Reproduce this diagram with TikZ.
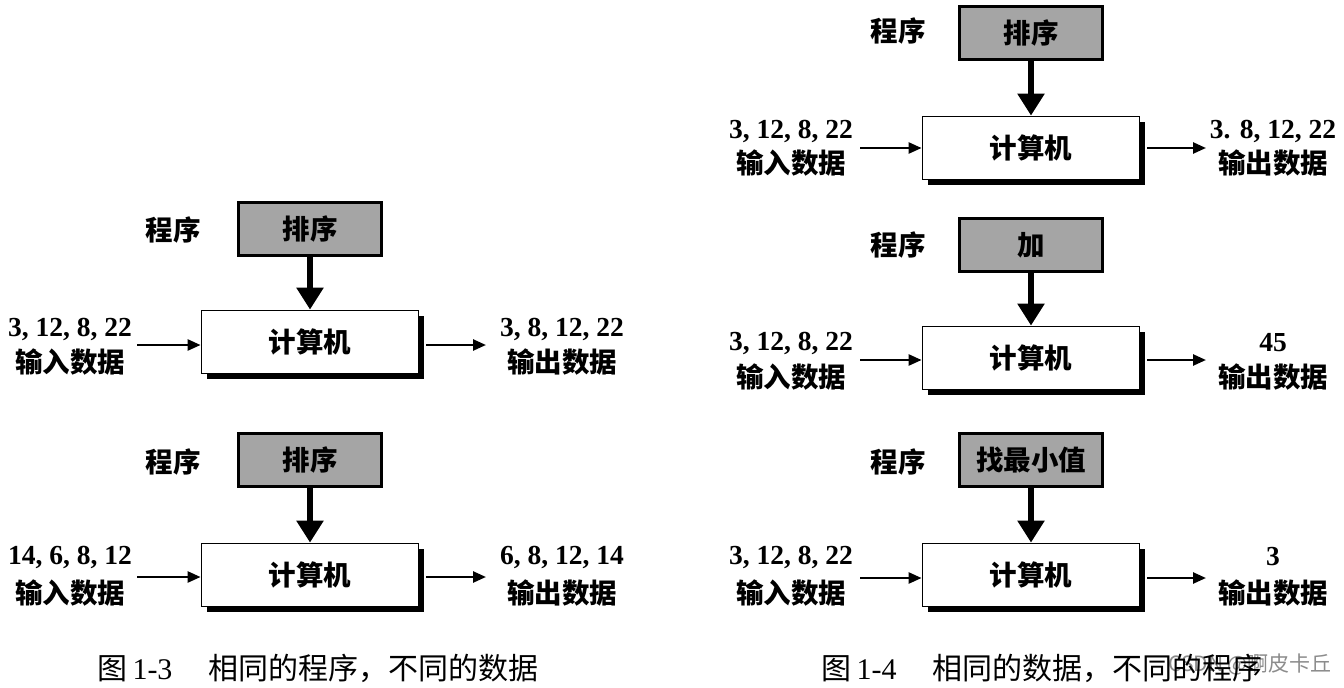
\documentclass[tikz,border=0pt]{standalone}
\usepackage{fontspec}
\setmainfont{Liberation Serif}
\newfontfamily\cjk{Noto Sans CJK SC}
\usetikzlibrary{arrows.meta,shadows}
\definecolor{boxgray}{RGB}{165,165,165}
\tikzset{
  progbox/.style={draw=black, line width=3pt, fill=boxgray, minimum width=143pt, minimum height=53pt, inner sep=0pt, font=\cjk\bfseries\fontsize{27.5}{30}\selectfont},
  compbox/.style={draw=black, line width=1.8pt, fill=white, minimum width=217pt, minimum height=63pt, inner sep=0pt, font=\cjk\bfseries\fontsize{27.5}{30}\selectfont, drop shadow={shadow xshift=5pt, shadow yshift=-5pt, opacity=1, fill=black}},
  lbl/.style={font=\cjk\bfseries\fontsize{27.5}{30}\selectfont, inner sep=0pt},
  num/.style={font=\bfseries\fontsize{27.5}{30}\selectfont, inner sep=0pt},
  figcaption/.style={font=\fontsize{30}{33}\selectfont, inner sep=0pt},
  varrow/.style={line width=5.5pt, -{Triangle[width=26pt,length=22pt]}},
  harrow/.style={line width=2.5pt, -{Triangle[width=11pt,length=13pt]}},
}
\begin{document}
\begin{tikzpicture}[x=1pt,y=-1pt]
\useasboundingbox (0,0) rectangle (1344,688);
\fill[white] (0,0) rectangle (1344,688);

% ---------- left top ----------
\node[lbl] (p1l) at (173,230) {程序};
\node[progbox] (p1) at (310,229) {排序};
\node[compbox] (c1) at (310,342) {计算机};
\node[num] (i1n) at (70,329) {3, 12, 8, 22};
\node[lbl] (i1t) at (70,362) {输入数据};
\node[num] (o1n) at (562,329) {3, 8, 12, 22};
\node[lbl] (o1t) at (562,362) {输出数据};
\coordinate (i1a) at (137,345);
\coordinate (o1a) at (486,345);
\draw[varrow] (p1) -- (c1);
\draw[harrow] (i1a) -- (i1a -| c1.west);
\draw[harrow, shorten <=7pt] (o1a -| c1.east) -- (o1a);

% ---------- left bottom ----------
\node[lbl] (p2l) at (173,462) {程序};
\node[progbox] (p2) at (310,460) {排序};
\node[compbox] (c2) at (310,575) {计算机};
\node[num] (i2n) at (70,557) {14, 6, 8, 12};
\node[lbl] (i2t) at (70,593) {输入数据};
\node[num] (o2n) at (562,557) {6, 8, 12, 14};
\node[lbl] (o2t) at (562,593) {输出数据};
\coordinate (i2a) at (137,577);
\coordinate (o2a) at (486,577);
\draw[varrow] (p2) -- (c2);
\draw[harrow] (i2a) -- (i2a -| c2.west);
\draw[harrow, shorten <=7pt] (o2a -| c2.east) -- (o2a);

% ---------- right top ----------
\node[lbl] (p3l) at (898,31) {程序};
\node[progbox] (p3) at (1031,33) {排序};
\node[compbox] (c3) at (1031,148) {计算机};
\node[num] (i3n) at (791,131) {3, 12, 8, 22};
\node[lbl] (i3t) at (791,163) {输入数据};
\node[num] (o3n) at (1273,131) {3. 8, 12, 22};
\node[lbl] (o3t) at (1273,163) {输出数据};
\coordinate (i3a) at (860,148);
\coordinate (o3a) at (1206,148);
\draw[varrow] (p3) -- (c3);
\draw[harrow] (i3a) -- (i3a -| c3.west);
\draw[harrow, shorten <=7pt] (o3a -| c3.east) -- (o3a);

% ---------- right middle ----------
\node[lbl] (p4l) at (898,245) {程序};
\node[progbox] (p4) at (1031,245) {加};
\node[compbox] (c4) at (1031,358) {计算机};
\node[num] (i4n) at (791,343) {3, 12, 8, 22};
\node[lbl] (i4t) at (791,377) {输入数据};
\node[num] (o4n) at (1273,343) {45};
\node[lbl] (o4t) at (1273,377) {输出数据};
\coordinate (i4a) at (860,360);
\coordinate (o4a) at (1206,360);
\draw[varrow] (p4) -- (c4);
\draw[harrow] (i4a) -- (i4a -| c4.west);
\draw[harrow, shorten <=7pt] (o4a -| c4.east) -- (o4a);

% ---------- right bottom ----------
\node[lbl] (p5l) at (898,462) {程序};
\node[progbox] (p5) at (1031,460) {找最小值};
\node[compbox] (c5) at (1031,575) {计算机};
\node[num] (i5n) at (791,557) {3, 12, 8, 22};
\node[lbl] (i5t) at (791,593) {输入数据};
\node[num] (o5n) at (1273,557) {3};
\node[lbl] (o5t) at (1273,593) {输出数据};
\coordinate (i5a) at (860,578);
\coordinate (o5a) at (1206,578);
\draw[varrow] (p5) -- (c5);
\draw[harrow] (i5a) -- (i5a -| c5.west);
\draw[harrow, shorten <=7pt] (o5a -| c5.east) -- (o5a);

% ---------- captions ----------
\node[font=\cjk\fontsize{21}{24}\selectfont, text=black!45, anchor=east, inner sep=0pt] (wm) at (1332,664) {CSDN @啊皮卡丘};
\node[figcaption] (cap1) at (318,668) {{\cjk 图}\,1-3\hspace{1.2em}{\cjk 相同的程序，不同的数据}};
\node[figcaption] (cap2) at (1042,668) {{\cjk 图}\,1-4\hspace{1.2em}{\cjk 相同的数据，不同的程序}};
\end{tikzpicture}
\end{document}
